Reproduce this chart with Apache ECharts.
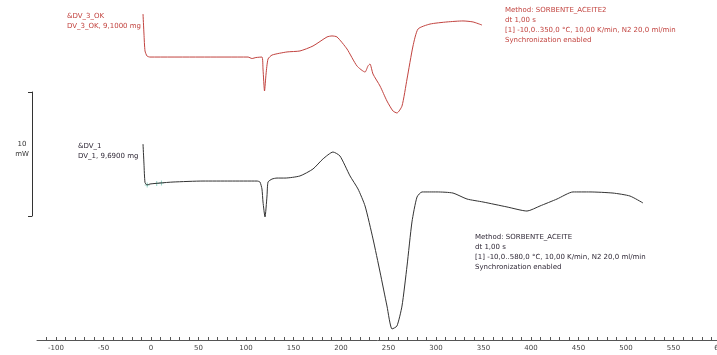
<!DOCTYPE html>
<html>
<head>
<meta charset="utf-8">
<script src="https://cdn.jsdelivr.net/npm/echarts@6/dist/echarts.min.js"></script>
<style>
  html, body { margin: 0; padding: 0; background: #ffffff; }
  #chart { width: 717px; height: 355px; }
</style>
</head>
<body>
<div id="chart"></div>
<script>
// DSC run DV_1 (sample 9,6900 mg): temperature in °C, heat flow in mW (display offset)
const tempDV1 = [-8.4, -7.4, -6.3, -4.2, -1.1, 9.5, 23.2, 54.7, 83.2, 111.6, 114.7, 116.8, 117.9, 120.0,
  122.1, 123.2, 127.4, 132.6, 141.0, 156.8, 170.5, 181.0, 191.6, 198.9, 209.5, 217.9, 225.3, 233.7,
  241.1, 248.4, 253.7, 258.9, 264.2, 269.5, 274.7, 280.0, 285.3, 301.1, 317.9, 332.6, 349.5, 374.7,
  395.8, 409.5, 427.4, 444.2, 462.1, 486.3, 504.2, 517.9];
const heatDV1 = [15.8, 14.2, 12.7, 12.5, 12.58, 12.66, 12.74, 12.82, 12.82, 12.82, 12.74, 12.18, 11.13, 9.92,
  11.61, 12.74, 12.98, 13.06, 13.06, 13.23, 13.79, 14.6, 15.16, 14.84, 13.23, 12.18, 10.81, 8.15,
  5.48, 2.74, 0.89, 1.13, 2.74, 5.97, 9.52, 11.53, 11.94, 11.94, 11.85, 11.37, 11.13, 10.73,
  10.40, 10.81, 11.37, 11.94, 11.94, 11.85, 11.61, 11.05];

// DSC run DV_3_OK (sample 9,1000 mg)
const tempDV3 = [-8.4, -7.4, -6.3, -4.2, -1.1, 51.6, 102.1, 106.3, 110.5, 116.8, 117.9, 119.5, 121.1,
  123.2, 127.4, 143.2, 156.8, 170.5, 185.3, 190.5, 195.8, 206.3, 216.8, 225.3, 228.4, 230.5, 233.7,
  241.1, 248.4, 254.7, 258.9, 264.2, 269.5, 275.8, 281.1, 293.7, 311.6, 328.4, 338.9, 348.4];
const heatDV3 = [26.29, 24.68, 23.31, 22.9, 22.82, 22.82, 22.82, 22.7, 22.78, 22.82, 21.85, 20.08, 21.45,
  22.66, 22.98, 23.23, 23.31, 23.71, 24.44, 24.52, 24.44, 23.47, 22.1, 21.61, 22.1, 22.26, 21.45,
  20.48, 19.27, 18.47, 18.31, 18.87, 21.05, 23.71, 25.08, 25.48, 25.65, 25.73, 25.65, 25.4];

// evaluation limit markers on DV_1
const markerTemps = [-4.0, 6.0, 11.0];
const markerHeat = [12.5, 12.62, 12.66];

// temperature axis
const tempMin = -120;
const tempMax = 600;
const tempLabelStep = 50;
const tempTickStep = 10;

// heat-flow scale bar
const scaleBarValue = 10;
const scaleBarUnit = 'mW';

// annotations
const labelDV3 = ['&DV_3_OK', 'DV_3_OK, 9,1000 mg'];
const methodDV3 = ['Method: SORBENTE_ACEITE2', 'dt 1,00 s',
  '[1] -10,0..350,0 °C, 10,00 K/min, N2 20,0 ml/min', 'Synchronization enabled'];
const labelDV1 = ['&DV_1', 'DV_1, 9,6900 mg'];
const methodDV1 = ['Method: SORBENTE_ACEITE', 'dt 1,00 s',
  '[1] -10,0..580,0 °C, 10,00 K/min, N2 20,0 ml/min', 'Synchronization enabled'];

const zip = (xs, ys) => xs.map((x, i) => [x, ys[i]]);

const FONT = 'DejaVu Sans';
const RED = '#c2433f';
const DARK = '#333333';
const TEXT_DARK = '#2f2836';

function textBlock(lines, left, top, color) {
  return {
    type: 'text', left: left, top: top, silent: true,
    style: { text: lines.join('\n'), fill: color, font: '7px "' + FONT + '"', lineHeight: 10 }
  };
}

const chart = echarts.init(document.getElementById('chart'), null, { renderer: 'canvas' });
chart.setOption({
  animation: false,
  backgroundColor: '#ffffff',
  grid: [
    { left: 37, top: 0, width: 684, height: 340, outerBoundsMode: 'none' },
    { left: 32, top: 92, width: 1, height: 124, outerBoundsMode: 'none' }
  ],
  xAxis: [
    {
      gridIndex: 0, type: 'value', min: tempMin, max: tempMax, interval: tempTickStep,
      splitLine: { show: false },
      axisLine: { show: true, lineStyle: { color: '#555555', width: 1 } },
      axisTick: { show: true, inside: true, length: 3, lineStyle: { color: '#555555' } },
      axisLabel: {
        color: '#444444', fontFamily: FONT, fontSize: 7, margin: 5,
        showMinLabel: false, showMaxLabel: true, hideOverlap: false,
        formatter: v => (v % tempLabelStep === 0 ? String(v) : '')
      }
    },
    { gridIndex: 1, type: 'value', min: 0, max: 1, show: false }
  ],
  yAxis: [
    { gridIndex: 0, type: 'value', min: 0, max: 340 / 12.4, show: false },
    {
      gridIndex: 1, type: 'value', min: 0, max: scaleBarValue, interval: scaleBarValue,
      position: 'left',
      splitLine: { show: false },
      axisLine: { show: true, lineStyle: { color: DARK, width: 1 } },
      axisTick: { show: true, length: 4, lineStyle: { color: DARK } },
      axisLabel: { show: false },
      // value over unit, sitting slightly above the bar's midpoint
      name: scaleBarValue + '\n' + scaleBarUnit + '\n',
      nameLocation: 'middle', nameRotate: 0, nameGap: 10,
      nameTextStyle: { color: '#333333', fontFamily: FONT, fontSize: 7, lineHeight: 10,
        align: 'center', verticalAlign: 'middle' }
    }
  ],
  series: [
    {
      name: 'DV_3_OK', type: 'line', xAxisIndex: 0, yAxisIndex: 0,
      data: zip(tempDV3, heatDV3), showSymbol: false, smooth: 0.2,
      lineStyle: { color: RED, width: 1 }
    },
    {
      name: 'DV_1', type: 'line', xAxisIndex: 0, yAxisIndex: 0,
      data: zip(tempDV1, heatDV1), showSymbol: false, smooth: 0.2,
      lineStyle: { color: DARK, width: 1 }
    },
    {
      name: 'limits', type: 'scatter', xAxisIndex: 0, yAxisIndex: 0,
      data: zip(markerTemps, markerHeat),
      symbol: 'path://M4,0H6V4H10V6H6V10H4V6H0V4H4Z', symbolSize: 5,
      itemStyle: { color: '#7cc9b8' }
    }
  ],
  graphic: [
    textBlock(labelDV3, 67, 11, RED),
    textBlock(methodDV3, 505, 5, RED),
    textBlock(labelDV1, 78, 141, TEXT_DARK),
    textBlock(methodDV1, 475, 232, TEXT_DARK)
  ]
});
</script>
</body>
</html>
